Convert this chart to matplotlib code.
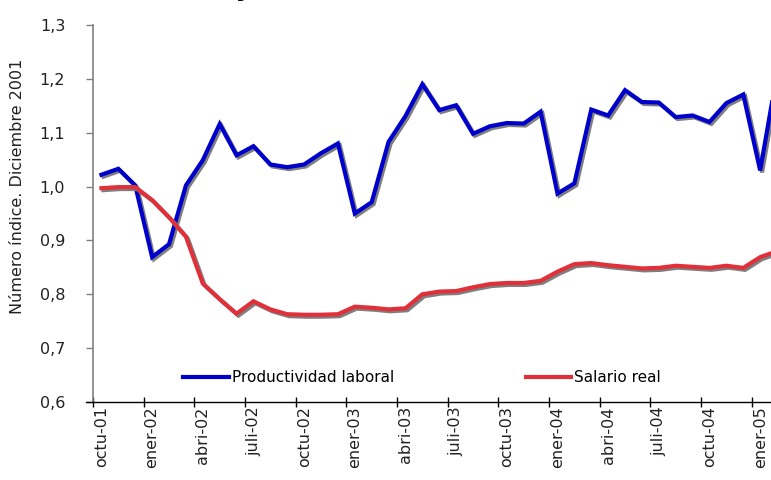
import matplotlib
matplotlib.use('Agg')
import matplotlib.pyplot as plt
import matplotlib.patheffects as pe

# ---- data ----
productividad = [1.022, 1.033, 1.002, 0.869, 0.893, 1.002, 1.049, 1.116, 1.058, 1.075,
                 1.041, 1.036, 1.041, 1.062, 1.080, 0.950, 0.971, 1.083, 1.131, 1.190,
                 1.142, 1.151, 1.098, 1.112, 1.118, 1.117, 1.139, 0.987, 1.006, 1.143,
                 1.132, 1.179, 1.157, 1.156, 1.129, 1.132, 1.120, 1.155, 1.171, 1.030,
                 1.210]
salario = [0.997, 0.999, 0.999, 0.975, 0.943, 0.907, 0.820, 0.791, 0.764, 0.787,
           0.772, 0.763, 0.762, 0.762, 0.763, 0.777, 0.775, 0.772, 0.774, 0.800,
           0.805, 0.806, 0.813, 0.819, 0.821, 0.821, 0.825, 0.842, 0.856, 0.858,
           0.854, 0.851, 0.848, 0.849, 0.853, 0.851, 0.849, 0.853, 0.849, 0.869,
           0.880]
tick_labels = ['octu-01', 'ener-02', 'abri-02', 'juli-02', 'octu-02', 'ener-03',
               'abri-03', 'juli-03', 'octu-03', 'ener-04', 'abri-04', 'juli-04',
               'octu-04', 'ener-05']
y_ticks = [0.6, 0.7, 0.8, 0.9, 1.0, 1.1, 1.2, 1.3]
y_tick_labels = ['0,6', '0,7', '0,8', '0,9', '1,0', '1,1', '1,2', '1,3']
series_names = ['Productividad laboral', 'Salario real']

W, H = 771, 480
fig = plt.figure(figsize=(W / 100, H / 100), dpi=100)
fig.patch.set_facecolor('white')

left_px, bottom_px, top_px = 93, 402, 25
cat_w = 16.89
ncat = 42
ax = fig.add_axes([left_px / W, (H - bottom_px) / H,
                   ncat * cat_w / W, (bottom_px - top_px) / H])

x = list(range(len(productividad)))
shadow = [pe.SimpleLineShadow(offset=(1.4, -1.4), shadow_color='#7f7f7f', alpha=1.0),
          pe.Normal()]
l1, = ax.plot(x, productividad, color='#0000CC', lw=3.0, solid_joinstyle='miter',
              path_effects=shadow, label=series_names[0])
l2, = ax.plot(x, salario, color='#E0313A', lw=3.0, solid_joinstyle='miter',
              path_effects=shadow, label=series_names[1])

ax.set_xlim(-0.5, ncat - 0.5)
ax.set_ylim(0.6, 1.3)
ax.set_yticks(y_ticks)
ax.set_yticklabels(y_tick_labels, fontsize=11.5, color='#222222')
ax.set_xticks([i * 3 for i in range(len(tick_labels))])
ax.set_xticklabels(tick_labels, rotation=90, fontsize=11.5, color='#222222',
                   va='top', ha='center')
ax.set_xticks([i * 3 - 0.5 for i in range(len(tick_labels) + 1)], minor=True)

ax.tick_params(axis='y', direction='out', length=5, width=1, color='#808080', pad=15)
ax.tick_params(axis='x', which='major', length=0, pad=3)
ax.tick_params(axis='x', which='minor', direction='inout', length=7, width=1, color='black')

for s in ['top', 'right']:
    ax.spines[s].set_visible(False)
ax.spines['left'].set_color('#808080')
ax.spines['left'].set_linewidth(1.2)
ax.spines['bottom'].set_color('black')
ax.spines['bottom'].set_linewidth(1.0)
ax.spines['bottom'].set_zorder(3)
# x axis line extends slightly left of the y axis
fig.add_artist(plt.Line2D([86 / W, left_px / W], [(H - bottom_px) / H] * 2,
                          color='black', lw=1.0))

fig.text(18 / W, (H - 186) / H, 'Número índice. Diciembre 2001', rotation=90,
         fontsize=11.5, color='#222222', ha='center', va='center')

fig.text(246 / W, 1.009, 'y', fontsize=18, fontweight='bold', style='italic',
         ha='center', va='baseline')

leg = fig.legend(handles=[l1, l2], labels=series_names, ncol=2, frameon=False,
                 loc='center left', bbox_to_anchor=(183 / W, (H - 378) / H),
                 bbox_transform=fig.transFigure, fontsize=11, handlelength=3.0,
                 handletextpad=0.2, columnspacing=8.6, borderpad=0, borderaxespad=0)
for h in leg.legend_handles:
    h.set_path_effects([])
    h.set_linewidth(3.0)

fig.savefig('out.png', dpi=100)
